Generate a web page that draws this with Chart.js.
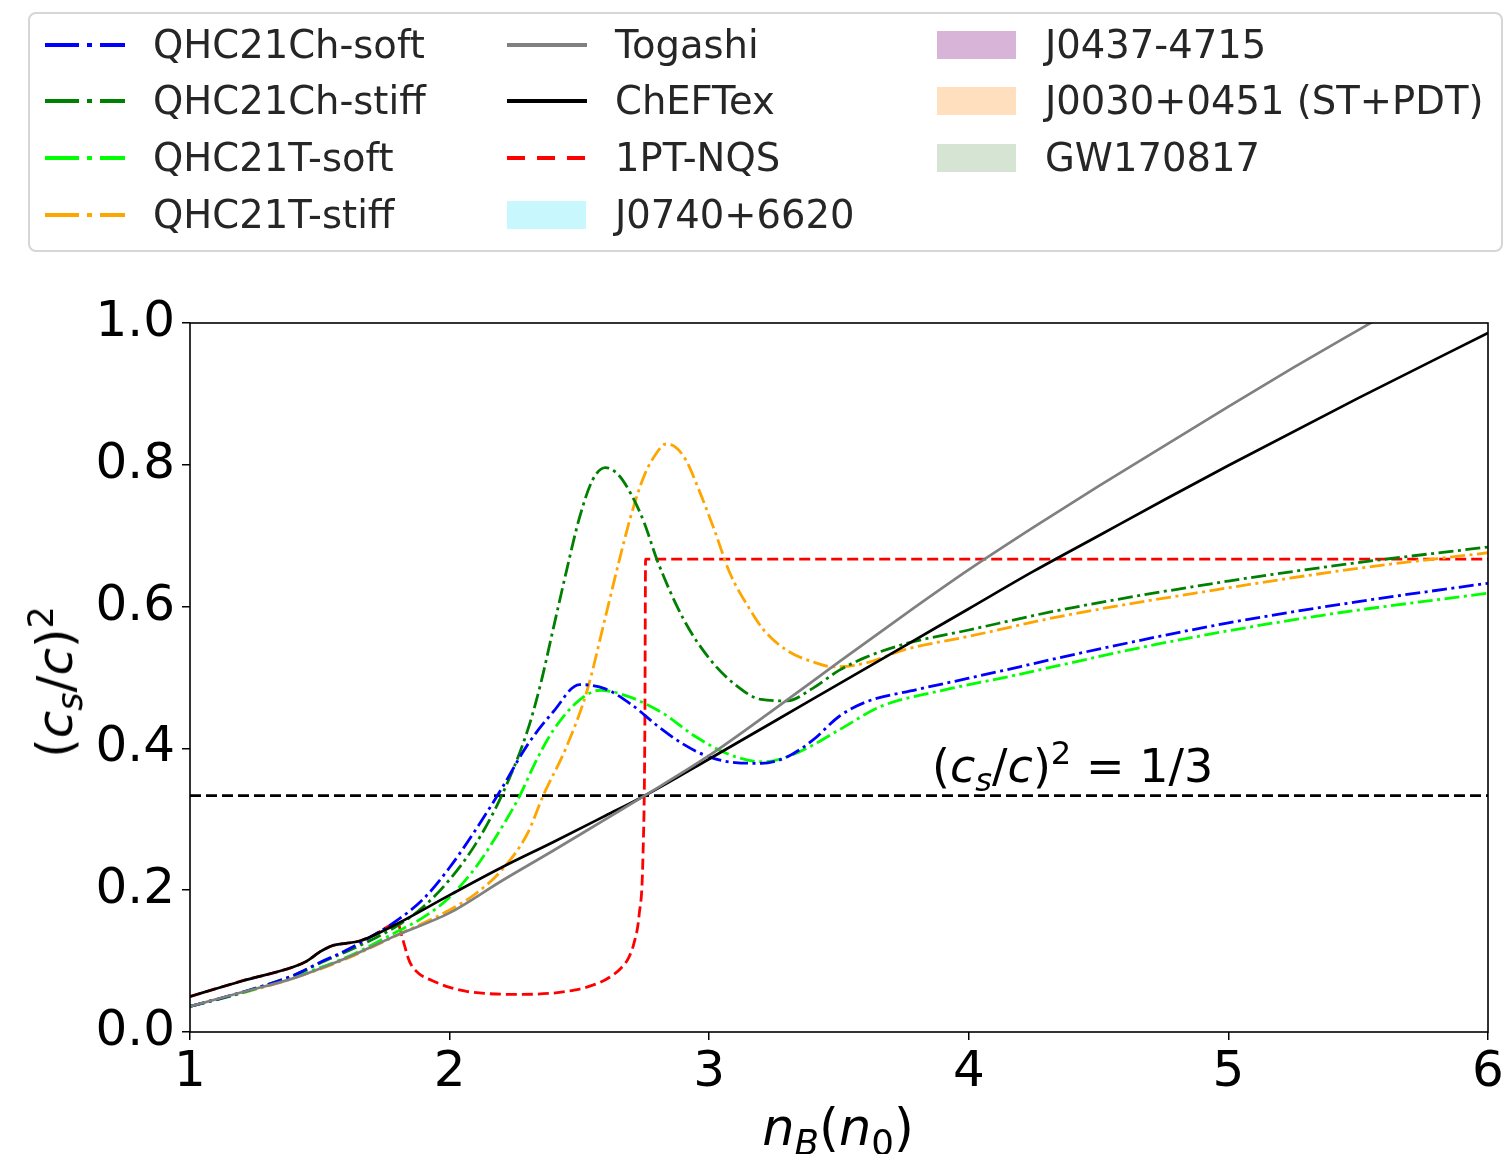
<!DOCTYPE html>
<html><head><meta charset="utf-8">
<script src="https://cdn.jsdelivr.net/npm/chart.js@4.4.1/dist/chart.umd.min.js"></script>
<style>
html,body{margin:0;padding:0;background:#fff;}
#wrap{position:relative;width:1504px;height:1154px;overflow:hidden;font-family:"DejaVu Sans",sans-serif;color:#000;}
#c{position:absolute;left:0;top:0;}
#legend{position:absolute;left:28px;top:12px;width:1475px;height:240px;border:2px solid #d6d6d6;border-radius:8px;box-sizing:border-box;background:rgba(255,255,255,0.85);}
.lg{position:absolute;font-size:38.5px;line-height:1;color:#262626;white-space:nowrap;}
.lh{position:absolute;}
.math{position:absolute;line-height:1;white-space:nowrap;font-family:"DejaVu Sans",sans-serif;}
.math i{font-style:italic;}
.math sub{font-size:0.7em;vertical-align:-0.28em;line-height:0;}
.math sup{font-size:0.7em;vertical-align:0.55em;line-height:0;}
</style></head>
<body>
<div id="wrap">
<canvas id="c" width="1504" height="1154"></canvas>
<div id="legend"></div>
<div class="math" id="ytitle" style="font-size:50px;left:55px;top:682px;transform:translate(-50%,-50%) rotate(-90deg);">(<i>c</i><sub><i>s</i></sub>/<i>c</i>)<sup>2</sup></div>
<div class="math" id="xtitle" style="font-size:51px;left:838px;top:1102px;transform:translateX(-50%);"><i>n</i><sub><i>B</i></sub>(<i>n</i><sub>0</sub>)</div>
<div class="math" id="ann" style="font-size:46px;transform:translateX(-50%);">(<i>c</i><sub><i>s</i></sub>/<i>c</i>)<sup>2</sup> = 1/3</div>
</div>
<script>
// ---------------- data ----------------
const xTicks = [1, 2, 3, 4, 5, 6];
const yTicks = [0.0, 0.2, 0.4, 0.6, 0.8, 1.0];

const togashiX = [1.0,1.2,1.4,1.6,1.8,2.0,2.2,2.4,2.6,2.75,3.0,3.25,3.5,3.75,4.0,4.25,4.5,4.75,5.0,5.25,5.5,6.0];
const togashiY = [0.036,0.056,0.076,0.104,0.137,0.168,0.213,0.256,0.3,0.333,0.39,0.455,0.522,0.588,0.652,0.712,0.77,0.826,0.882,0.937,0.99,1.095];

const chefX = [1.0,1.2,1.4,1.45,1.5,1.55,1.6,1.65,1.7,1.8,2.0,2.2,2.4,2.6,2.75,3.0,3.25,3.5,3.75,4.0,4.25,4.5,4.75,5.0,5.5,6.0];
const chefY = [0.05,0.072,0.092,0.1,0.113,0.122,0.125,0.128,0.135,0.153,0.193,0.232,0.268,0.305,0.333,0.385,0.438,0.491,0.544,0.597,0.65,0.70,0.75,0.799,0.894,0.986];

const nqsX = [1.0,1.2,1.4,1.45,1.5,1.55,1.6,1.65,1.7,1.8,1.817,1.845,1.88,1.93,2.0,2.07,2.27,2.48,2.58,2.62,2.66,2.69,2.71,2.73,2.745,2.752,2.755,3.0,4.0,5.0,6.0];
const nqsY = [0.05,0.072,0.092,0.1,0.113,0.122,0.125,0.128,0.135,0.153,0.134,0.1,0.083,0.073,0.063,0.057,0.053,0.059,0.07,0.078,0.09,0.105,0.125,0.165,0.25,0.42,0.667,0.667,0.667,0.667,0.667];

const chSoftX = [1.0,1.2,1.4,1.5,1.6,1.7,1.8,1.9,2.0,2.1,2.2,2.3,2.4,2.5,2.6,2.7,2.8,2.9,3.0,3.1,3.2,3.3,3.4,3.5,3.6,3.8,4.0,4.5,5.0,5.5,6.0];
const chSoftY = [0.036,0.056,0.08,0.098,0.115,0.135,0.158,0.188,0.232,0.285,0.343,0.405,0.452,0.49,0.484,0.462,0.432,0.406,0.388,0.38,0.379,0.388,0.412,0.445,0.465,0.483,0.499,0.54,0.577,0.607,0.633];

const chStiffX = [1.0,1.2,1.4,1.5,1.6,1.7,1.8,1.9,2.0,2.1,2.2,2.3,2.35,2.4,2.45,2.5,2.55,2.6,2.65,2.7,2.75,2.8,2.9,3.0,3.1,3.2,3.3,3.4,3.5,3.6,3.75,4.0,4.35,5.0,5.5,6.0];
const chStiffY = [0.036,0.056,0.08,0.097,0.113,0.13,0.15,0.177,0.215,0.265,0.333,0.425,0.49,0.57,0.65,0.725,0.778,0.796,0.786,0.758,0.718,0.665,0.583,0.527,0.49,0.469,0.467,0.485,0.51,0.528,0.547,0.567,0.595,0.636,0.662,0.684];

const tSoftX = [1.0,1.2,1.4,1.6,1.8,1.9,2.0,2.1,2.2,2.27,2.33,2.4,2.5,2.58,2.69,2.82,2.95,3.08,3.21,3.34,3.5,3.66,3.9,4.15,4.74,5.33,6.0];
const tSoftY = [0.036,0.055,0.078,0.105,0.142,0.162,0.19,0.232,0.288,0.333,0.38,0.426,0.468,0.482,0.473,0.45,0.416,0.391,0.381,0.394,0.426,0.459,0.482,0.501,0.548,0.586,0.619];

const tStiffX = [1.0,1.2,1.4,1.6,1.8,2.0,2.1,2.2,2.3,2.36,2.45,2.53,2.6,2.65,2.7,2.75,2.8,2.83,2.87,2.91,2.96,3.02,3.08,3.15,3.21,3.3,3.4,3.48,3.6,3.75,4.0,4.35,4.94,5.5,6.0];
const tStiffY = [0.036,0.055,0.076,0.103,0.137,0.172,0.195,0.228,0.28,0.333,0.402,0.482,0.585,0.66,0.73,0.785,0.818,0.829,0.825,0.807,0.765,0.708,0.647,0.6,0.567,0.538,0.522,0.515,0.52,0.539,0.558,0.586,0.623,0.654,0.676];

const confX = [1, 6];
const confY = [1/3, 1/3];

const legendLabels = ["QHC21Ch-soft","QHC21Ch-stiff","QHC21T-soft","QHC21T-stiff","Togashi","ChEFTex","1PT-NQS","J0740+6620","J0437-4715","J0030+0451 (ST+PDT)","GW170817"];
const annX = 4.40, annY = 0.3526;

// ---------------- styles ----------------
const DASHDOT = [15, 4.5, 3, 4.5];
const DASHED = [11, 5];
function pts(xs, ys){ return xs.map((x,i)=>({x:x, y:ys[i]})); }
function ds(xs, ys, color, dash, width){
  return {data: pts(xs, ys), borderColor: color, borderDash: dash, borderWidth: width,
    pointRadius: 0, fill: false, cubicInterpolationMode: 'monotone', clip: 0};
}
const datasets = [
  ds(togashiX, togashiY, '#808080', [], 2.7),
  ds(chefX, chefY, '#000000', [], 2.7),
  ds(chSoftX, chSoftY, '#0000ff', DASHDOT, 2.8),
  ds(chStiffX, chStiffY, '#008000', DASHDOT, 2.8),
  ds(tSoftX, tSoftY, '#00ff00', DASHDOT, 2.8),
  ds(tStiffX, tStiffY, '#ffa500', DASHDOT, 2.8),
  ds(nqsX, nqsY, '#ff0000', DASHED, 2.8),
  ds(confX, confY, '#000000', [11, 5], 2.7)
];
datasets[7].cubicInterpolationMode = 'default'; datasets[7].tension = 0;

// ---------------- legend (HTML) ----------------
const legendStyle = [
  {t:'line', c:'#0000ff', d:'34 8 5 8'},
  {t:'line', c:'#008000', d:'34 8 5 8'},
  {t:'line', c:'#00ff00', d:'34 8 5 8'},
  {t:'line', c:'#ffa500', d:'34 8 5 8'},
  {t:'line', c:'#808080', d:''},
  {t:'line', c:'#000000', d:''},
  {t:'line', c:'#ff0000', d:'18 12'},
  {t:'patch', c:'#c8f8fd'},
  {t:'patch', c:'#d9b4d9'},
  {t:'patch', c:'#ffdfbe'},
  {t:'patch', c:'#d5e4d3'}
];
const colX = [45, 507, 937];
const rowY = [45, 101, 158, 215];
const wrap = document.getElementById('wrap');
legendLabels.forEach((lab, i) => {
  const col = Math.floor(i / 4), row = i % 4;
  const hx = colX[col], cy = rowY[row], st = legendStyle[i];
  const h = document.createElement('div');
  h.className = 'lh';
  h.style.left = hx + 'px'; h.style.top = (cy - 15) + 'px';
  if (st.t === 'line') {
    h.innerHTML = '<svg width="80" height="30"><line x1="0" y1="15" x2="80" y2="15" stroke="' + st.c +
      '" stroke-width="4"' + (st.d ? ' stroke-dasharray="' + st.d + '"' : '') + '/></svg>';
  } else {
    h.innerHTML = '<svg width="80" height="30"><rect x="0" y="1" width="79" height="28" fill="' + st.c + '"/></svg>';
  }
  wrap.appendChild(h);
  const t = document.createElement('div');
  t.className = 'lg';
  t.textContent = lab;
  t.style.left = (hx + 108) + 'px';
  t.style.top = (cy - 19) + 'px';
  wrap.appendChild(t);
});

// ---------------- plugins ----------------
const framePlugin = {
  id: 'frame',
  afterDatasetsDraw(chart) {
    const a = chart.chartArea, ctx = chart.ctx;
    ctx.save();
    ctx.strokeStyle = '#000'; ctx.lineWidth = 1.6;
    ctx.strokeRect(a.left, a.top, a.right - a.left, a.bottom - a.top);
    ctx.restore();
  },
  afterRender(chart) {
    const el = document.getElementById('ann');
    el.style.left = chart.scales.x.getPixelForValue(annX) + 'px';
    el.style.top = (chart.scales.y.getPixelForValue(annY) - 39) + 'px';
  }
};

new Chart(document.getElementById('c'), {
  type: 'line',
  data: { datasets: datasets },
  options: {
    responsive: false, animation: false,
    layout: { padding: { top: 323, right: 16, left: 0, bottom: 0 } },
    plugins: { legend: { display: false }, tooltip: { enabled: false } },
    scales: {
      x: {
        type: 'linear', min: 1, max: 6,
        afterBuildTicks: s => { s.ticks = xTicks.map(v => ({value: v})); },
        afterFit: s => { s.height = 122; s.paddingLeft = 0; s.paddingRight = 0; },
        border: { display: false },
        grid: { drawOnChartArea: false, drawTicks: true, tickLength: 8, color: '#000', lineWidth: 1.5 },
        ticks: { color: '#000', font: { family: 'DejaVu Sans', size: 50 }, padding: 3, maxRotation: 0,
          callback: v => String(v) }
      },
      y: {
        type: 'linear', min: 0, max: 1,
        afterBuildTicks: s => { s.ticks = yTicks.map(v => ({value: v})); },
        afterFit: s => { s.width = 190; s.paddingTop = 0; s.paddingBottom = 0; },
        border: { display: false },
        grid: { drawOnChartArea: false, drawTicks: true, tickLength: 8, color: '#000', lineWidth: 1.5 },
        ticks: { color: '#000', font: { family: 'DejaVu Sans', size: 50 }, padding: 7,
          callback: v => Number(v).toFixed(1) }
      }
    }
  },
  plugins: [framePlugin]
});
</script>
</body></html>
